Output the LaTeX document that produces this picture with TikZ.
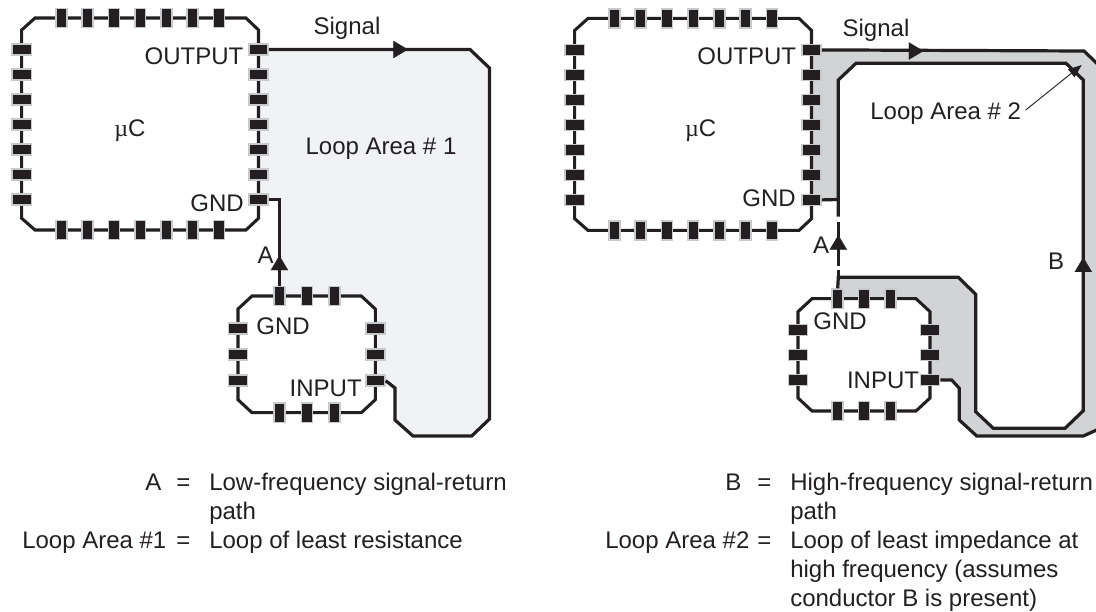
\documentclass[tikz,border=0pt]{standalone}
\usepackage{fontspec}
\setmainfont{Liberation Sans}
\newfontfamily\muserif{Liberation Serif}
\usetikzlibrary{arrows.meta}
\definecolor{ink}{HTML}{231F20}
\definecolor{halo}{HTML}{C8C9CA}
\definecolor{lightloop}{HTML}{F1F2F4}
\definecolor{darkloop}{HTML}{D1D3D4}
\tikzset{
  px/.style={x=0.75pt,y=-0.75pt},
  wire/.style={draw=ink,line width=2.4pt,line join=miter},
  outline/.style={draw=ink,line width=2.3pt,line join=miter},
  hpin/.style={rectangle,fill=ink,draw=halo,line width=1.2pt,minimum width=14.4pt,minimum height=8.2pt,inner sep=0pt},
  vpin/.style={rectangle,fill=ink,draw=halo,line width=1.2pt,minimum width=8.2pt,minimum height=14.4pt,inner sep=0pt},
  lbl/.style={inner sep=0pt,font=\fontsize{18}{21.7}\selectfont,text=ink},
  lblw/.style={lbl,anchor=base west},
  tip/.style={draw=ink,line width=0.2pt,-{Triangle[length=11pt,width=13pt,fill=ink]}},
  thinarrow/.style={draw=ink,line width=0.7pt,-{Triangle[length=10pt,width=7.5pt,fill=ink]}}
}
% big chip: name
\newcommand{\bigchip}[1]{%
  \draw[outline] (21.7,30) -- (35,18) -- (246,18) -- (258.5,30) -- (258.5,218.3) -- (246,230) -- (35,230) -- (21.7,218.3) -- cycle;
  \foreach \i/\px in {1/61.5,2/87.7,3/114,4/140.2,5/166.5,6/192.7,7/219}{
    \node[vpin] (#1t\i) at (\px,18) {};
    \node[vpin] (#1b\i) at (\px,230) {};
  }
  \foreach \i/\py in {1/49.5,2/74.5,3/99.5,4/124.5,5/149.5,6/174.5,7/199.5}{
    \node[hpin] (#1l\i) at (21.7,\py) {};
    \node[hpin] (#1r\i) at (258.5,\py) {};
  }
}
% small chip: name, L, R, T, B, pin x values, pin y values
\newcommand{\smallchip}[7]{%
  \draw[outline] (#2,#4+13) -- (#2+14,#4) -- (#3-14,#4) -- (#3,#4+13) -- (#3,#5-13) -- (#3-14,#5) -- (#2+14,#5) -- (#2,#5-13) -- cycle;
  \foreach \i/\px in {#6}{
    \node[vpin] (#1t\i) at (\px,#4) {};
    \node[vpin] (#1b\i) at (\px,#5) {};
  }
  \foreach \i/\py in {#7}{
    \node[hpin] (#1l\i) at (#2,\py) {};
    \node[hpin] (#1r\i) at (#3,\py) {};
  }
}
\begin{document}
\begin{tikzpicture}[px]
\useasboundingbox (0,0) rectangle (1096,611);
\clip (0,0) rectangle (1096,611);
% --- fills
\fill[lightloop] (258.5,49.5) -- (470,49.5) -- (489.5,68) -- (489.5,419) -- (471.7,436) -- (413,436) -- (395,420) -- (395,388) -- (386,379.5) -- (375.3,379.5) -- (375.3,309) -- (361.3,296) -- (279.4,296) -- (279.4,199.5) -- (258.5,199.5) -- cycle;
\fill[darkloop] (811.7,51) -- (1084,51) -- (1110,76) -- (1110,424) -- (1083.3,436) -- (976.7,436) -- (959.3,420) -- (959.3,388.3) -- (951.7,380) -- (930,380) -- (930,311.7) -- (916,298.7) -- (838.3,298.7) -- (838.3,277.3) -- (958.3,277.3) -- (975.7,294.3) -- (975.7,411.7) -- (993.3,428.3) -- (1065,428.3) -- (1083.3,410.7) -- (1083.3,80) -- (1066,63.3) -- (856,63.3) -- (838.3,80) -- (838.3,199.5) -- (811.7,199.5) -- cycle;
% --- left panel
\bigchip{a}
\smallchip{b}{238}{375.3}{296}{412.7}{1/279.3,2/307,3/334.3}{1/328.3,2/354.3,3/380.7}
\draw[wire] (ar1.east) -- (470,49.5) -- (489.5,68) -- (489.5,419) -- (471.7,436) -- (413,436) -- (395,420) -- (395,388) -- (br3.east);
\draw[wire] (ar7.east) -| (bt1.north);
\coordinate (sa1) at (393,49.5);
\coordinate (sa2) at (408,49.5);
\draw[tip] (sa1) -- (sa2);
\coordinate (aa1) at (279.4,270);
\coordinate (aa2) at (279.4,255.5);
\draw[tip] (aa1) -- (aa2);
\node[lbl] (tsiga) at (347,28) {Signal};
\node[lbl] (tout) at (194,56) {OUTPUT};
\node[lbl] (tmua) at (130,131) {{\muserif µ}C};
\node[lbl] (tgnda) at (217,203) {GND};
\node[lbl] (tloop1) at (381,148.5) {Loop Area \# 1};
\node[lbl] (ta) at (265.7,255) {A};
\node[lbl] (tgndb) at (283,326.7) {GND};
\node[lbl] (tinb) at (325.7,388) {INPUT};
% --- right panel
\begin{scope}[shift={(553,0.4)}]
\bigchip{c}
\end{scope}
\smallchip{d}{798}{930}{298.7}{411}{1/837.7,2/864,3/890.3}{1/330,2/355,3/380}
\draw[wire] (cr1.east) -- (1084,51) -- (1110,76) -- (1110,424) -- (1083.3,436) -- (976.7,436) -- (959.3,420) -- (959.3,388.3) -- (951.7,380) -- (dr3.east);
\coordinate (j1) at (838.3,216.7);
\coordinate (j2) at (838.3,221.7);
\coordinate (j3) at (838.3,265.7);
\draw[wire] (dt1.north) -- (838.3,277.3) -- (958.3,277.3) -- (975.7,294.3) -- (975.7,411.7) -- (993.3,428.3) -- (1065,428.3) -- (1083.3,410.7) -- (1083.3,80) -- (1066,63.3) -- (856,63.3) -- (838.3,80) -- (j1);
\draw[wire] (j2) -- (j3);
\coordinate (j4) at (838.3,270);
\draw[wire] (j4) -- (838.3,279);
\draw[wire] (cr7.east) -- (838.3,199.5);
\coordinate (sc1) at (909,51);
\coordinate (sc2) at (923.5,51);
\draw[tip] (sc1) -- (sc2);
\coordinate (ac1) at (838.3,249.5);
\coordinate (ac2) at (838.3,235);
\draw[tip] (ac1) -- (ac2);
\coordinate (bc1) at (1083.3,272);
\coordinate (bc2) at (1083.3,257.3);
\draw[tip] (bc1) -- (bc2);
\node[lbl] (tsigc) at (876,30) {Signal};
\node[lbl] (toutc) at (746.7,56) {OUTPUT};
\node[lbl] (tmuc) at (700.7,131) {{\muserif µ}C};
\node[lbl] (tgndc) at (769,198.5) {GND};
\node[lbl] (tloop2) at (945.7,114) {Loop Area \# 2};
\coordinate (la) at (1025.7,110);
\coordinate (lb) at (1081.7,65);
\draw[thinarrow] (la) -- (lb);
\node[lbl] (tac) at (821,245.7) {A};
\node[lbl] (tbc) at (1056,261.7) {B};
\node[lbl] (tgndd) at (840,321.7) {GND};
\node[lbl] (tind) at (883,380) {INPUT};
% --- legends
\node[lblw] (l1) at (145,490) {A};
\node[lblw] (l2) at (176,490) {=};
\node[lblw] (l3) at (209,490) {Low-frequency signal-return};
\node[lblw] (l4) at (209,519) {path};
\node[lblw] (l5) at (22,548) {Loop Area \#1};
\node[lblw] (l6) at (176,548) {=};
\node[lblw] (l7) at (209,548) {Loop of least resistance};
\node[lblw] (r1) at (725,490) {B};
\node[lblw] (r2) at (757,490) {=};
\node[lblw] (r3) at (790,490) {High-frequency signal-return};
\node[lblw] (r4) at (790,519) {path};
\node[lblw] (r5) at (605,548) {Loop Area \#2};
\node[lblw] (r6) at (757,548) {=};
\node[lblw] (r7) at (790,548) {Loop of least impedance at};
\node[lblw] (r8) at (790,577) {high frequency (assumes};
\node[lblw] (r9) at (790,606) {conductor B is present)};
\end{tikzpicture}
\end{document}
